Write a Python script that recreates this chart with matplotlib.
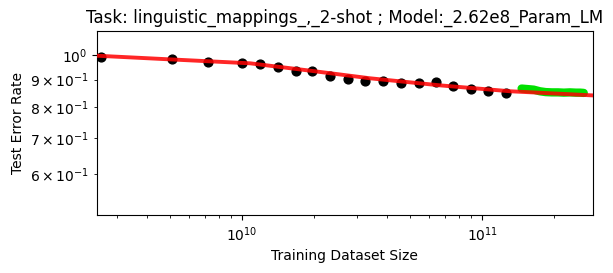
import matplotlib
matplotlib.use("Agg")
import matplotlib.pyplot as plt

# observed checkpoints (training tokens, test error rate)
data_sizes = [2.585e9, 5.12e9, 7.17e9, 1.00e10, 1.19e10, 1.41e10, 1.67e10,
              1.96e10, 2.33e10, 2.75e10, 3.25e10, 3.88e10, 4.58e10, 5.43e10,
              6.42e10, 7.59e10, 8.97e10, 1.06e11, 1.26e11]
error_rates = [0.990, 0.982, 0.972, 0.965, 0.962, 0.950, 0.935,
               0.935, 0.914, 0.901, 0.896, 0.896, 0.888, 0.888,
               0.889, 0.877, 0.863, 0.858, 0.851]

# held-out extrapolation region (green)
heldout_sizes = [1.46e11, 1.55e11, 1.64e11, 1.74e11, 1.84e11, 1.95e11,
                 2.07e11, 2.19e11, 2.32e11, 2.46e11, 2.56e11, 2.65e11]
heldout_rates = [0.866, 0.864, 0.862, 0.856, 0.853, 0.852,
                 0.852, 0.851, 0.852, 0.851, 0.851, 0.850]

# fitted curve (red)
fit_sizes = [2.48e9, 5.11e9, 1.08e10, 1.92e10, 3.41e10, 6.68e10, 1.31e11, 2.89e11]
fit_rates = [0.997, 0.981, 0.965, 0.935, 0.905, 0.878, 0.856, 0.841]

fig = plt.figure(figsize=(6.13, 2.73), dpi=100)
ax = fig.add_axes([0.158, 0.2113, 0.809, 0.6764])

ax.scatter(data_sizes, error_rates, color="black", s=40, zorder=2)
ax.plot(heldout_sizes, heldout_rates, color="#00e000", lw=6,
        solid_capstyle="round", zorder=3)
ax.plot(fit_sizes, fit_rates, color="red", lw=2.8, alpha=0.85, zorder=4)

ax.set_xscale("log")
ax.set_yscale("log")
ax.set_xlim(2.48e9, 2.89e11)
ax.set_ylim(0.503, 1.11)

ax.set_title("Task: linguistic_mappings_,_2-shot ; Model:_2.62e8_Param_LM")
ax.set_xlabel("Training Dataset Size")
ax.set_ylabel("Test Error Rate")

fig.savefig("out.png", dpi=100)
